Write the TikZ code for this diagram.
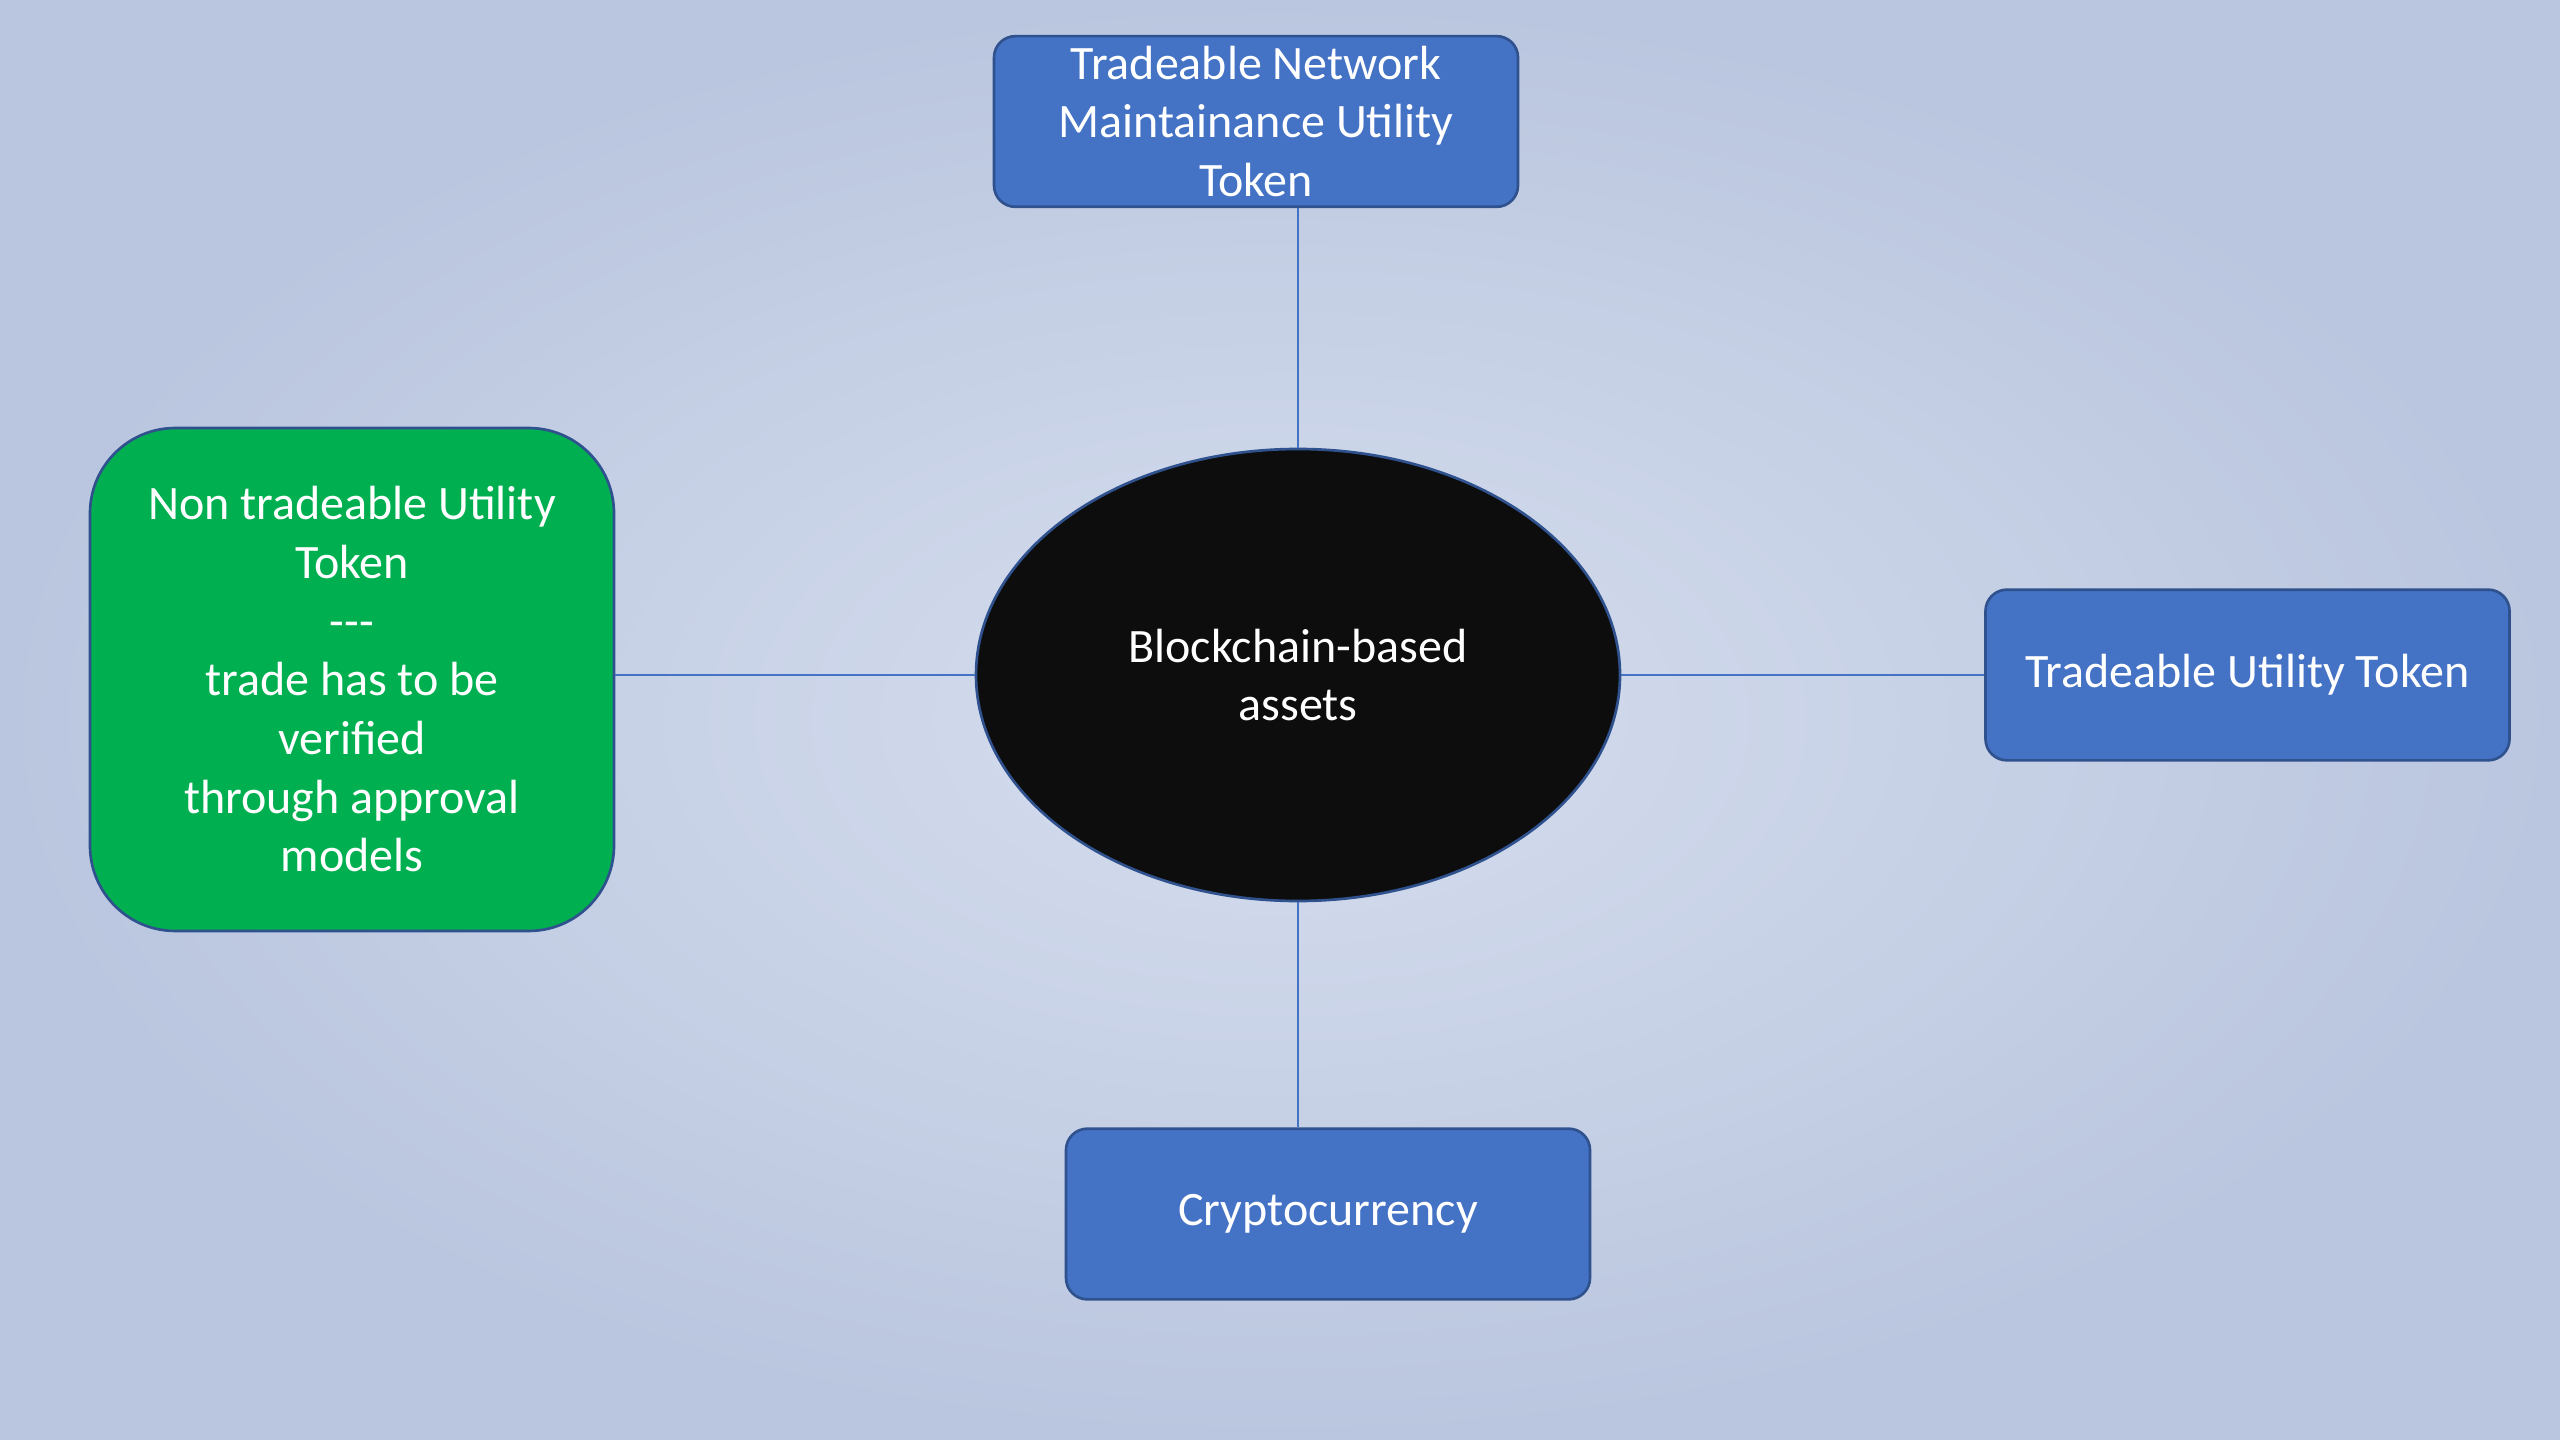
\documentclass[tikz,border=0pt]{standalone}
\usepackage{fontspec}
\setmainfont{Carlito}
\usetikzlibrary{positioning,calc,shapes.geometric}
\definecolor{tokenblue}{HTML}{4472C4}
\definecolor{tokenedge}{HTML}{2F528F}
\definecolor{tokengreen}{HTML}{00B050}
\definecolor{skyblue}{HTML}{BAC6DF}
\definecolor{skylight}{HTML}{D6DEEE}
\definecolor{blobfill}{HTML}{0D0D0D}

\begin{document}
\begin{tikzpicture}[x=0.375pt,y=-0.375pt,
    token/.style={draw=tokenedge,line width=1pt,fill=tokenblue,rounded corners=8pt,
        text=white,align=center,inner sep=0pt,minimum width=196.5pt,minimum height=64pt,
        font=\fontsize{18}{22}\selectfont},
    greentoken/.style={token,fill=tokengreen,rounded corners=32pt,minimum height=188.6pt},
    blob/.style={ellipse,draw=tokenedge,line width=1pt,fill=blobfill,text=white,align=center,
        inner sep=0pt,minimum width=241.5pt,minimum height=169.5pt,
        font=\fontsize{18}{22}\selectfont},
    link/.style={draw=tokenblue,line width=0.75pt}]

        %%%% Background =================================
        \useasboundingbox (0,0) rectangle (2560,1440);
        \shade[inner color=skylight,outer color=skyblue] (0,0) rectangle (2560,1440);

        % Centre
        \node[blob] (blob) at (1298,675) {Blockchain-based\\assets};

        % Tokens
        \node[token] (network) at (1256,121.5) {Tradeable Network\\Maintainance Utility\\Token};
        \node[greentoken] (nontrade) at (352,679.5) {Non tradeable Utility\\Token\\-{}-{}-\\trade has to be\\verified\\through approval\\models};
        \node[token] (trade) at (2247.5,675) {Tradeable Utility Token};
        \node[token] (crypto) at (1328,1214) {Cryptocurrency};

        % Links
        \draw[link] (blob.north) -- (blob.north |- network.south);
        \draw[link] (blob.west) -- (blob.west -| nontrade.east);
        \draw[link] (blob.east) -- (trade.west);
        \draw[link] (blob.south) -- (blob.south |- crypto.north);
    \end{tikzpicture}
\end{document}
